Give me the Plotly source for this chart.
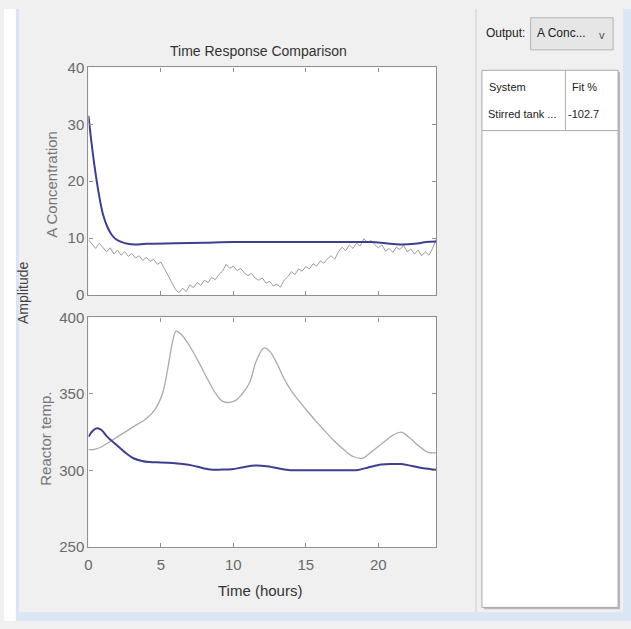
import plotly.graph_objects as go

# ---------------- data ----------------
# Top panel: A Concentration
t_conc_model = [0, 0.2, 0.4, 0.7, 1.0, 1.3, 1.6, 1.9, 2.3, 2.7, 3.2, 4, 6, 8, 10, 12, 14, 16, 18,
                19.5, 20.5, 21.5, 22.5, 23.3, 24]
conc_model = [31.5, 27, 23, 18, 14.2, 12, 10.6, 9.8, 9.3, 9.0, 8.9, 9.0, 9.1, 9.2, 9.3, 9.3, 9.3, 9.3,
              9.3, 9.3, 9.1, 8.9, 9.0, 9.3, 9.4]

t_conc_meas = [i * 0.25 for i in range(97)]
conc_meas = [
    9.7, 9.0, 8.2, 9.1, 8.4, 7.6, 8.3, 7.2, 7.9, 7.0,
    7.6, 6.8, 7.3, 6.5, 6.9, 6.1, 6.6, 5.9, 6.3, 5.4,
    5.8, 4.6, 3.2, 2.1, 1.0, 0.4, 1.2, 0.6, 1.8, 1.3,
    2.2, 1.7, 2.6, 2.2, 3.1, 2.7, 3.6, 4.2, 5.4, 4.7,
    5.1, 4.3, 4.7, 3.9, 3.4, 3.8, 3.0, 2.6, 3.0, 2.1,
    2.4, 1.6, 1.9, 1.4, 2.6, 3.2, 4.1, 3.6, 4.6, 4.2,
    5.0, 4.6, 5.5, 5.1, 6.0, 5.6, 6.4, 6.9, 6.3, 7.6,
    8.4, 7.8, 8.8, 8.2, 9.1, 8.6, 9.9, 9.2, 9.6, 8.9,
    8.3, 8.8, 7.7, 8.2, 7.5, 8.4, 8.0, 8.7, 7.6, 8.1,
    7.2, 7.9, 6.9, 7.6, 7.0, 8.2, 9.8,
]

# Bottom panel: Reactor temp.
t_temp_meas = [0, 0.5, 1, 1.5, 2, 3, 4, 4.6, 5.1, 5.5, 5.8, 6.05, 6.4, 7, 7.6, 8.2, 8.8, 9.3, 10.1,
               10.6, 11.1, 11.6, 12.1, 12.5, 13, 13.5, 14, 15, 16, 17, 17.7, 18.3, 18.9, 19.5,
               20.3, 21, 21.6, 22.2, 22.8, 23.4, 24]
temp_meas = [313.6, 314, 316, 319, 322, 328, 334, 340, 350, 368, 384, 391, 389, 381, 371, 360, 350,
             345, 345.5, 350, 357, 372, 380, 378, 370, 360, 352, 340, 329, 319, 313, 309, 308, 312,
             318, 323, 325, 321, 316, 312, 311.5]

t_temp_model = [0, 0.3, 0.6, 0.9, 1.3, 1.9, 2.5, 3.1, 3.7, 4.2, 5, 5.8, 6.5, 7.2, 7.8, 8.4, 9.2, 9.9,
                10.7, 11.5, 12.3, 12.9, 13.8, 15, 16.5, 18, 18.6, 19.3, 20.2, 21, 21.6, 22.3, 23,
                23.8, 24]
temp_model = [322, 326, 327.6, 326.5, 322, 317, 312, 308, 306.2, 305.5, 305.3, 304.9, 304.2, 303.2,
              301.8, 300.7, 300.6, 300.8, 302.2, 303.2, 302.8, 301.8, 300.4, 300.2, 300.2, 300.2,
              300.4, 302, 304, 304.3, 304.2, 303, 301.6, 300.7, 300.5]

x_ticks = [0, 5, 10, 15, 20]
conc_ticks = [0, 10, 20, 30, 40]
temp_ticks = [250, 300, 350, 400]

# ---------------- figure ----------------
W, H = 631, 629


def X(px):
    return px / W


def Y(py):
    return 1 - py / H


NARROW = "Liberation Sans Narrow, Arial Narrow, Liberation Sans, Arial"
SANS = "Liberation Sans, Arial"
UI = "Noto Sans, Open Sans, Liberation Sans"

BLUE = "#3f3f91"
GRAY_TOP = "#9c9c9c"
GRAY_BOT = "#ababab"
FRAME = "#8f8f8f"

fig = go.Figure()
fig.add_trace(go.Scatter(x=t_conc_meas, y=conc_meas, mode="lines", xaxis="x2", yaxis="y",
                         line=dict(color=GRAY_TOP, width=1), showlegend=False))
fig.add_trace(go.Scatter(x=t_conc_model, y=conc_model, mode="lines", xaxis="x2", yaxis="y",
                         line=dict(color=BLUE, width=2, shape="spline"), showlegend=False))
fig.add_trace(go.Scatter(x=t_temp_meas, y=temp_meas, mode="lines", xaxis="x", yaxis="y2",
                         line=dict(color=GRAY_BOT, width=1.3, shape="spline"), showlegend=False))
fig.add_trace(go.Scatter(x=t_temp_model, y=temp_model, mode="lines", xaxis="x", yaxis="y2",
                         line=dict(color=BLUE, width=2, shape="spline"), showlegend=False))

axis_common = dict(showline=True, linecolor=FRAME, linewidth=1.3, mirror="ticks", ticks="inside",
                   ticklen=4, tickcolor=FRAME, showgrid=False, zeroline=False,
                   tickfont=dict(family=NARROW, size=15, color="#6a6a6a"))

fig.update_layout(
    width=W, height=H,
    margin=dict(l=0, r=0, t=0, b=0),
    paper_bgcolor="#f0f0f0",
    plot_bgcolor="white",
    xaxis=dict(domain=[X(85), X(435)], range=[0, 24], tickvals=x_ticks, anchor="y2",
               ticklabelstandoff=4, **axis_common),
    xaxis2=dict(domain=[X(85), X(435)], range=[0, 24], tickvals=x_ticks, anchor="y",
                showticklabels=False, matches="x", **axis_common),
    yaxis=dict(domain=[Y(294), Y(60)], range=[0, 40], tickvals=conc_ticks, anchor="x2",
               **axis_common),
    yaxis2=dict(domain=[Y(553), Y(317)], range=[250, 400], tickvals=temp_ticks, anchor="x",
                **axis_common),
)

shapes = []
# window borders
shapes.append(dict(type="rect", xref="paper", yref="paper", x0=X(0), x1=X(12), y0=Y(629), y1=Y(0),
                   fillcolor="white", line=dict(width=0), layer="below"))
shapes.append(dict(type="rect", xref="paper", yref="paper", x0=X(12), x1=X(15), y0=Y(629), y1=Y(0),
                   fillcolor="#d6e4f3", line=dict(width=0), layer="below"))
shapes.append(dict(type="rect", xref="paper", yref="paper", x0=X(12), x1=X(631), y0=Y(629), y1=Y(620),
                   fillcolor="#dbe6f4", line=dict(width=0), layer="below"))
shapes.append(dict(type="rect", xref="paper", yref="paper", x0=X(623), x1=X(631), y0=Y(629), y1=Y(0),
                   fillcolor="#dbe6f4", line=dict(width=0), layer="below"))
# divider
shapes.append(dict(type="line", xref="paper", yref="paper", x0=X(475), x1=X(475), y0=Y(620), y1=Y(0),
                   line=dict(color="#dadada", width=1.5), layer="below"))
# dropdown
shapes.append(dict(type="rect", xref="paper", yref="paper", x0=X(530), x1=X(613), y0=Y(42), y1=Y(9),
                   fillcolor="#e6e6e6", line=dict(color="#b4b4b4", width=1), layer="below"))
# table panel shadow + panel
shapes.append(dict(type="rect", xref="paper", yref="paper", x0=X(483), x1=X(620), y0=Y(617), y1=Y(65),
                   fillcolor="#b9b9b9", line=dict(width=0), layer="below"))
shapes.append(dict(type="rect", xref="paper", yref="paper", x0=X(481), x1=X(618), y0=Y(615), y1=Y(63),
                   fillcolor="white", line=dict(color="#a8a8a8", width=1), layer="below"))
shapes.append(dict(type="line", xref="paper", yref="paper", x0=X(565), x1=X(565), y0=Y(125), y1=Y(63),
                   line=dict(color="#b0b0b0", width=1), layer="below"))
shapes.append(dict(type="line", xref="paper", yref="paper", x0=X(481), x1=X(618), y0=Y(125), y1=Y(125),
                   line=dict(color="#a8a8a8", width=1), layer="below"))
fig.update_layout(shapes=shapes)

ann = []


def txt(text, px, py, size, color, family, angle=0, xanchor="center"):
    ann.append(dict(text=text, x=X(px), y=Y(py), xref="paper", yref="paper", showarrow=False,
                    font=dict(size=size, color=color, family=family), textangle=angle,
                    xanchor=xanchor, yanchor="middle"))


txt("Time Response Comparison", 256, 43, 14, "#333333", NARROW)
txt("Time (hours)", 258, 598, 15, "#333333", NARROW)
txt("A Concentration", 47, 180, 15, "#777777", SANS, angle=-90)
txt("Reactor temp.", 41, 442, 15, "#777777", SANS, angle=-90)
txt("Amplitude", 19, 292, 14, "#444444", SANS, angle=-90)
txt("Output:", 483, 25, 12, "#222222", NARROW, xanchor="left")
txt("A Conc...", 534, 25, 12, "#222222", NARROW, xanchor="left")
txt("v", 602, 26, 11, "#555555", UI)
txt("System", 486, 80, 11, "#222222", NARROW, xanchor="left")
txt("Fit %", 570, 80, 11, "#222222", NARROW, xanchor="left")
txt("Stirred tank ...", 485, 108, 11, "#222222", NARROW, xanchor="left")
txt("-102.7", 566, 108, 11, "#222222", NARROW, xanchor="left")
fig.update_layout(annotations=ann)

fig.write_html("out.html")
